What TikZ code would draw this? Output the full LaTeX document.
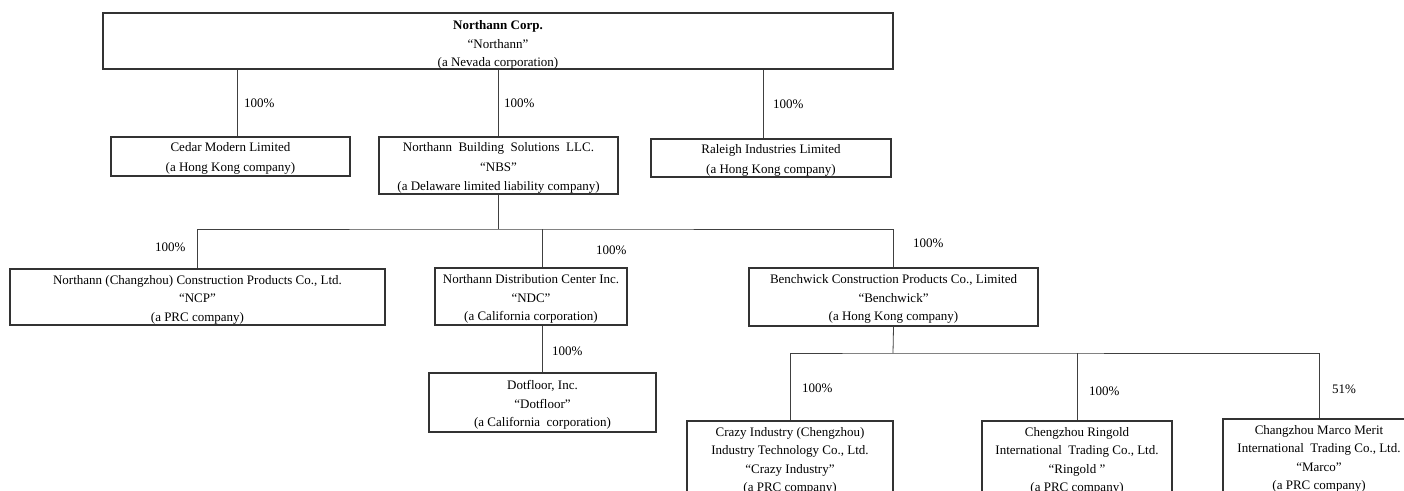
\documentclass[tikz,border=0pt]{standalone}
\usepackage{fontspec}
\setmainfont{Liberation Serif}
\begin{document}
\begin{tikzpicture}[x=1pt,y=-1pt,
  box/.style={draw=black!80, line width=1.1pt, inner sep=0pt},
  txt/.style={align=center, inner sep=0pt, font=\fontsize{13}{#1}\selectfont},
  txt/.default=18.6,
  conn/.style={draw=black!75, line width=0.8pt},
  pct/.style={anchor=west, inner sep=0pt, font=\fontsize{13}{15}\selectfont}]
\useasboundingbox (0,0) rectangle (1404,490);
\fill[white] (0,0) rectangle (1404,490);
\clip (0,0) rectangle (1404,490);

% boxes
\node[box, minimum width=790, minimum height=56,
  label={[txt=18.2, yshift=-4pt]center:{\textbf{Northann Corp.}\\“Northann”\\(a Nevada corporation)}}] (top) at (498,41) {};
\node[box, minimum width=239, minimum height=39,
  label={[txt=20, yshift=-2pt]center:{Cedar Modern Limited\\(a Hong Kong company)}}] (cedar) at (230.5,156.5) {};
\node[box, minimum width=239, minimum height=57,
  label={[txt=19.5, yshift=-2.5pt]center:{Northann\ \ Building\ \ Solutions\ \ LLC.\\“NBS”\\(a Delaware limited liability company)}}] (nbs) at (498.5,165.5) {};
\node[box, minimum width=240, minimum height=38,
  label={[txt=20, yshift=-2.5pt]center:{Raleigh Industries Limited\\(a Hong Kong company)}}] (raleigh) at (771,158) {};

\node[box, minimum width=375, minimum height=56,
  label={[txt, yshift=-2.5pt]center:{Northann (Changzhou) Construction Products Co., Ltd.\\“NCP”\\(a PRC company)}}] (ncp) at (197.5,297) {};
\node[box, minimum width=192, minimum height=57,
  label={[txt, yshift=-2.5pt]center:{Northann Distribution Center Inc.\\“NDC”\\(a California corporation)}}] (ndc) at (531,296.5) {};
\node[box, minimum width=289, minimum height=58,
  label={[txt, yshift=-2pt]center:{Benchwick Construction Products Co., Limited\\“Benchwick”\\(a Hong Kong company)}}] (bench) at (893.5,297) {};
\node[box, minimum width=227, minimum height=59,
  label={[txt, yshift=-2.5pt]center:{Dotfloor, Inc.\\“Dotfloor”\\(a California\ \ corporation)}}] (dot) at (542.5,402.5) {};

\node[box, minimum width=206, minimum height=80,
  label={[txt=18.3]center:{Crazy Industry (Chengzhou)\\Industry Technology Co., Ltd.\\“Crazy Industry”\\(a PRC company)}}] (crazy) at (790,461) {};
\node[box, minimum width=190, minimum height=80,
  label={[txt=18.3]center:{Chengzhou Ringold\\International\ \ Trading Co., Ltd.\\“Ringold ”\\(a PRC company)}}] (ringold) at (1077,461) {};
\node[box, minimum width=192, minimum height=80,
  label={[txt=18.3]center:{Changzhou Marco Merit\\International\ \ Trading Co., Ltd.\\“Marco”\\(a PRC company)}}] (marco) at (1319,459) {};

% helper x positions
\coordinate (xC) at (237,0);
\coordinate (xN) at (498,0);
\coordinate (xR) at (763,0);
\coordinate (xD) at (542,0);
\coordinate (j1) at (498,229);
\coordinate (j2) at (893,353);

% connectors level 1
\draw[conn] (top.south -| xC) -- (cedar.north -| xC);
\draw[conn] (top.south -| xN) -- (nbs.north -| xN);
\draw[conn] (top.south -| xR) -- (raleigh.north -| xR);

% connectors level 2
\draw[conn] (nbs.south -| xN) -- (j1);
\draw[conn] (ncp.north) |- (j1) -| (bench.north);
\draw[conn] (ndc.north -| xD) -- (j1 -| xD);
\draw[conn] (ndc.south -| xD) -- (dot.north -| xD);

% connectors level 3
\draw[conn] (bench.south) -- (j2);
\draw[conn] (crazy.north) |- (j2) -| (marco.north);
\draw[conn] (ringold.north) -- (ringold.north |- j2);

% percentages
\node[pct] (p1) at (244,103) {100\%};
\node[pct] (p2) at (504,103) {100\%};
\node[pct] (p3) at (773,104) {100\%};
\node[pct] (p4) at (155,247) {100\%};
\node[pct] (p5) at (596,250) {100\%};
\node[pct] (p6) at (913,243) {100\%};
\node[pct] (p7) at (552,351) {100\%};
\node[pct] (p8) at (802,388) {100\%};
\node[pct] (p9) at (1089,391) {100\%};
\node[pct] (p10) at (1332,389) {51\%};
\end{tikzpicture}
\end{document}
